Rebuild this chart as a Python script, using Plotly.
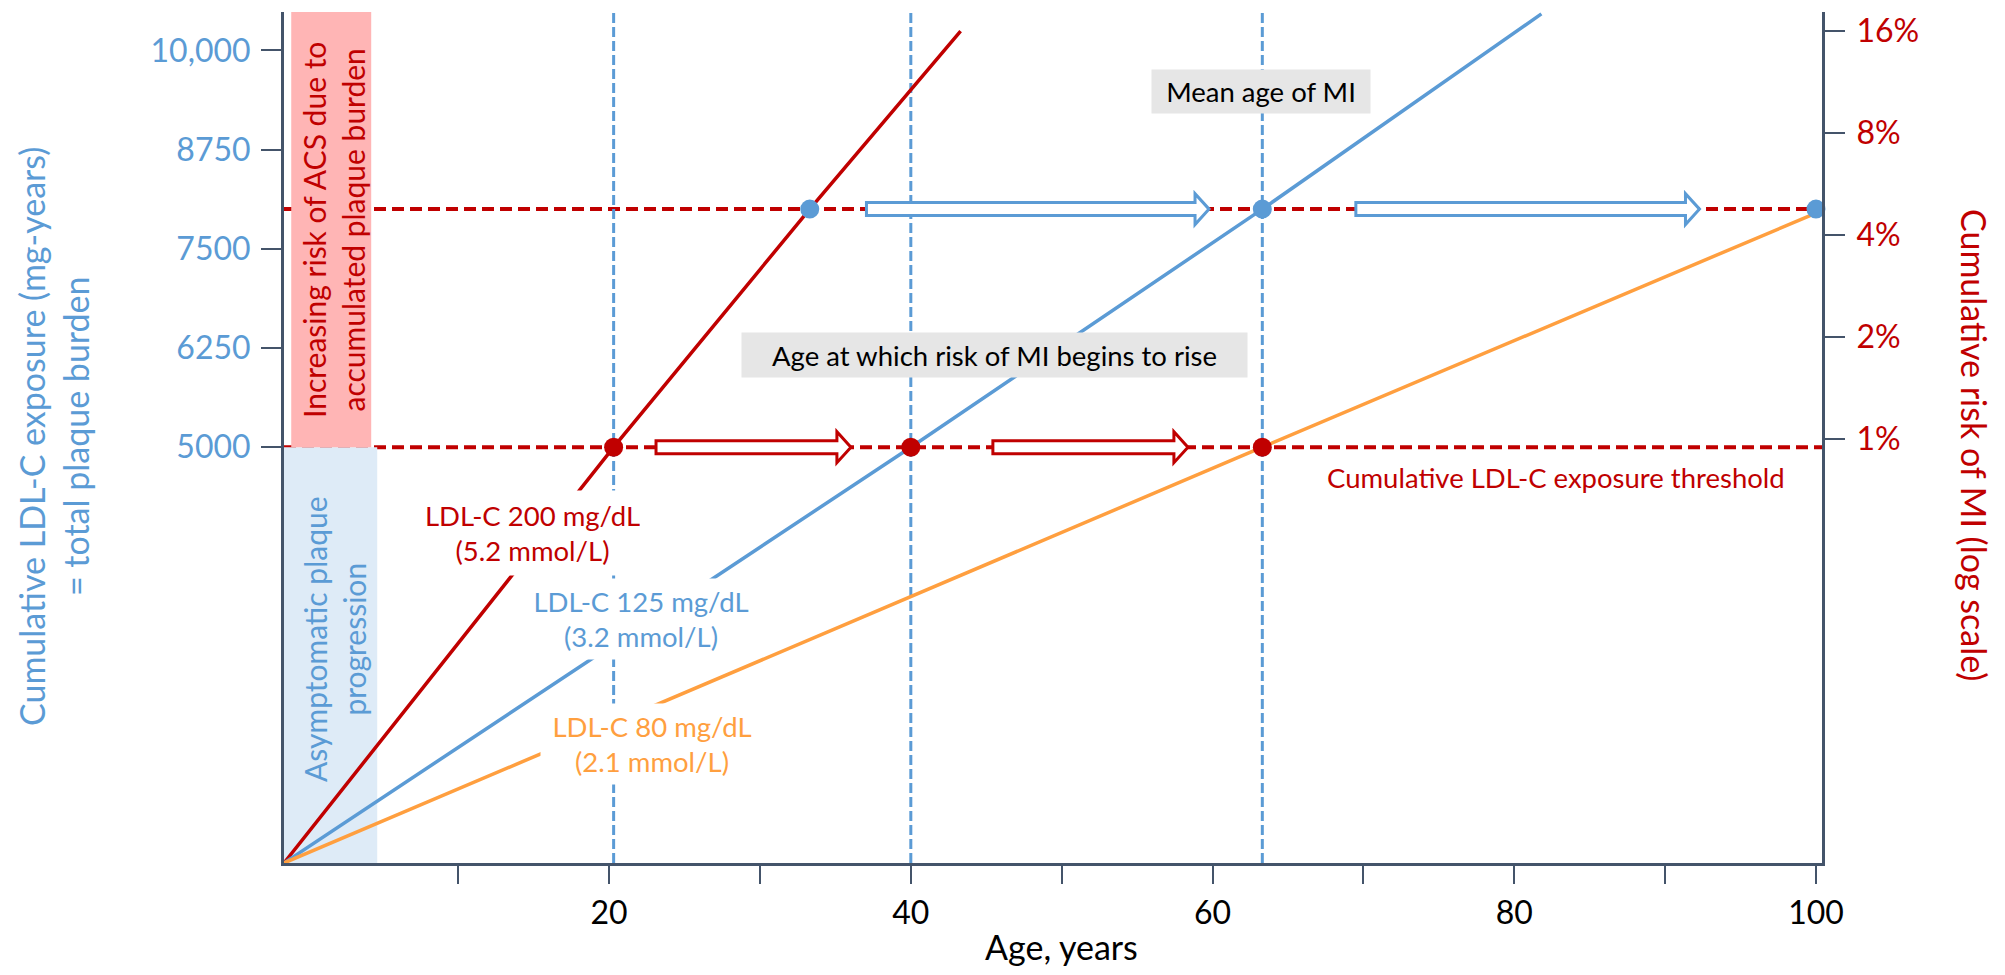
import math
import plotly.graph_objects as go

# ---------------- data ----------------
X_RANGE = [-1.55, 100.4]          # age axis range (years)
Y_RANGE = [-240, 10484]           # cumulative LDL-C exposure axis range (mg-years)
RISK_RANGE_PCT = [0.0561, 18.2]   # right log axis range (%)

age_ticks = [10, 20, 30, 40, 50, 60, 70, 80, 90, 100]
age_ticktext = ["", "20", "", "40", "", "60", "", "80", "", "100"]
exposure_ticks = [5000, 6250, 7500, 8750, 10000]
exposure_ticktext = ["5000", "6250", "7500", "8750", "10,000"]
risk_ticks = [0.01, 0.02, 0.04, 0.08, 0.16]
risk_ticktext = ["1%", "2%", "4%", "8%", "16%"]

threshold_exposure = 5000          # cumulative LDL-C exposure threshold
mi_exposure = 8000                 # exposure at mean age of MI

# LDL-C trajectories (age, exposure), starting at the axes origin
red_age = [X_RANGE[0], 20.3, 33.3, 43.3]
red_exposure = [Y_RANGE[0], 5000, 8000, 10244]
blue_age = [X_RANGE[0], 40.0, 63.3, 81.8]
blue_exposure = [Y_RANGE[0], 5000, 8000, 10460]
orange_age = [X_RANGE[0], 63.3, 100.0]
orange_exposure = [Y_RANGE[0], 5000, 7950]

threshold_ages = [20.3, 40.0, 63.3]     # red dots on threshold line
mi_ages = [33.3, 63.3, 100.0]           # blue dots on MI line
vline_ages = [20.3, 40.0, 63.3]         # blue dashed verticals

red_arrow_start = [23.11, 45.44]
red_arrow_tip = [36.03, 58.37]
blue_arrow_start = [37.06, 69.5]
blue_arrow_tip = [59.77, 92.28]

asympt_band = [X_RANGE[0], 4.63]
acs_band = [-1.07, 4.23]

# ---------------- styles ----------------
RED = "#C00000"
BLUE = "#5B9BD5"
ORANGE = "#FF9F3F"
AX = "#44546A"
PINK = "#FFB5B5"
LIGHTBLUE = "#DEEBF7"
GRAY = "#E6E6E6"
FONT = "Lato"
SMALL = 27.5
BAND = 30
BIG = 34
TICK = 32

OFF = 8                      # page body margin
W, H = 1997, 959
L, T = 276, 4
R = W - 1814
B = H - 855
PW, PH = W - L - R, H - T - B


def px_x(px):   # page pixel -> paper x
    return (px - OFF - L) / PW


def px_y(py):   # page pixel -> paper y
    return (H - B - (py - OFF)) / PH


fig = go.Figure()

# lines
for ages, vals, col in [(red_age, red_exposure, RED),
                        (blue_age, blue_exposure, BLUE),
                        (orange_age, orange_exposure, ORANGE)]:
    fig.add_trace(go.Scatter(x=ages, y=vals, mode="lines",
                             line=dict(color=col, width=3.5),
                             hoverinfo="skip", cliponaxis=False))

# markers
fig.add_trace(go.Scatter(x=threshold_ages, y=[threshold_exposure] * len(threshold_ages),
                         mode="markers", marker=dict(color=RED, size=19),
                         cliponaxis=False, hoverinfo="skip"))
fig.add_trace(go.Scatter(x=mi_ages, y=[mi_exposure] * len(mi_ages),
                         mode="markers", marker=dict(color=BLUE, size=19),
                         cliponaxis=False, hoverinfo="skip"))
# invisible trace to activate right axis
fig.add_trace(go.Scatter(x=[X_RANGE[0]] * len(risk_ticks), y=risk_ticks, yaxis="y2",
                         mode="markers", marker=dict(opacity=0), hoverinfo="skip"))

shapes = []
shapes.append(dict(type="rect", xref="x", yref="y", x0=asympt_band[0], x1=asympt_band[1],
                   y0=Y_RANGE[0], y1=threshold_exposure, fillcolor=LIGHTBLUE,
                   line=dict(width=0), layer="below"))
shapes.append(dict(type="line", xref="paper", yref="y", x0=0, x1=1,
                   y0=mi_exposure, y1=mi_exposure,
                   line=dict(color=RED, width=4, dash="12px,6px"), layer="below"))
shapes.append(dict(type="rect", xref="x", yref="y", x0=acs_band[0], x1=acs_band[1],
                   y0=threshold_exposure, y1=Y_RANGE[1], fillcolor=PINK,
                   line=dict(width=0), layer="below"))
shapes.append(dict(type="line", xref="paper", yref="y", x0=0, x1=1,
                   y0=threshold_exposure, y1=threshold_exposure,
                   line=dict(color=RED, width=4, dash="12px,6px"), layer="below"))
for a in vline_ages:
    shapes.append(dict(type="line", xref="x", yref="paper", x0=a, x1=a, y0=0, y1=0.999,
                       line=dict(color=BLUE, width=3, dash="10px,4px"), layer="below"))

HEAD_LEN = 0.93   # years
SHAFT_H = 6.5     # px
HEAD_H = 15.5     # px


def arrow(x0, xt, yv, col):
    xb = xt - HEAD_LEN
    path = (f"M{x0},{SHAFT_H} L{xb},{SHAFT_H} L{xb},{HEAD_H} L{xt},0 "
            f"L{xb},{-HEAD_H} L{xb},{-SHAFT_H} L{x0},{-SHAFT_H} Z")
    return dict(type="path", xref="x", yref="y", ysizemode="pixel", yanchor=yv,
                path=path, fillcolor="white", line=dict(color=col, width=3),
                layer="below")


for s, t in zip(red_arrow_start, red_arrow_tip):
    shapes.append(arrow(s, t, threshold_exposure, RED))
for s, t in zip(blue_arrow_start, blue_arrow_tip):
    shapes.append(arrow(s, t, mi_exposure, BLUE))

annotations = []


def ann(text, cx, cy, size, color, angle=0, **kw):
    d = dict(text=text, xref="paper", yref="paper", x=px_x(cx), y=px_y(cy),
             xanchor="center", yanchor="middle", showarrow=False, textangle=angle,
             font=dict(family=FONT, size=size, color=color))
    d.update(kw)
    annotations.append(d)


ann("Cumulative LDL-C exposure (mg-years)<br>= total plaque burden", 53, 437, BIG, BLUE, -90)
ann("Cumulative risk of MI (log scale)", 1975, 445, BIG, RED, 90)
ann("Age, years", 1061, 947, BIG, "black")
ann("Increasing risk of ACS due to<br>accumulated plaque burden", 333, 230, BAND, RED, -90)
ann("Asymptomatic plaque<br>progression", 334, 639, BAND, BLUE, -90)
ann("LDL-C 200 mg/dL<br>(5.2 mmol/L)", 532, 533, SMALL, RED,
    bgcolor="white", width=215, height=84, borderpad=0)
ann("LDL-C 125 mg/dL<br>(3.2 mmol/L)", 641, 619, SMALL, BLUE,
    bgcolor="white", width=222, height=80, borderpad=0)
ann("LDL-C 80 mg/dL<br>(2.1 mmol/L)", 652, 744, SMALL, ORANGE,
    bgcolor="white", width=222, height=80, borderpad=0)
ann("Age at which risk of MI begins to rise", 994.5, 355, SMALL, "black",
    bgcolor=GRAY, width=505, height=44, borderpad=0)
ann("Mean age of MI", 1261, 91.5, SMALL, "black",
    bgcolor=GRAY, width=218, height=43, borderpad=0)
ann("Cumulative LDL-C exposure threshold", 1556, 477, SMALL, RED)

fig.update_layout(
    width=W, height=H,
    margin=dict(l=L, r=R, t=T, b=B, pad=0, autoexpand=False),
    plot_bgcolor="white", paper_bgcolor="white",
    showlegend=False,
    font=dict(family=FONT),
    shapes=shapes,
    annotations=annotations,
    xaxis=dict(range=X_RANGE, showline=True, linecolor=AX, linewidth=3,
               ticks="outside", ticklen=18, tickwidth=2, tickcolor=AX,
               tickvals=age_ticks, ticktext=age_ticktext,
               tickfont=dict(family=FONT, size=TICK, color="black"),
               showgrid=False, zeroline=False, ticklabelstandoff=2),
    yaxis=dict(range=Y_RANGE, showline=True, linecolor=AX, linewidth=3,
               ticks="outside", ticklen=20, tickwidth=2, tickcolor=AX,
               tickvals=exposure_ticks, ticktext=exposure_ticktext,
               tickfont=dict(family=FONT, size=TICK, color=BLUE),
               showgrid=False, zeroline=False, ticklabelstandoff=4),
    yaxis2=dict(type="log", overlaying="y", side="right",
                range=[math.log10(RISK_RANGE_PCT[0] / 100), math.log10(RISK_RANGE_PCT[1] / 100)],
                showline=True, linecolor=AX, linewidth=3,
                ticks="outside", ticklen=20, tickwidth=2, tickcolor=AX,
                tickvals=risk_ticks, ticktext=risk_ticktext,
                tickfont=dict(family=FONT, size=TICK, color=RED),
                showgrid=False, zeroline=False, ticklabelstandoff=5),
)

fig.write_html("out.html")
